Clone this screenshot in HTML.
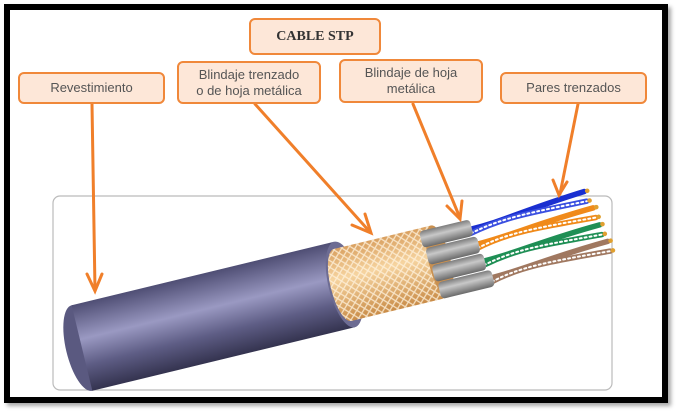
<!DOCTYPE html>
<html><head><meta charset="utf-8"><style>
html,body{margin:0;padding:0;background:#fff}
body{width:681px;height:415px;position:relative;overflow:hidden;font-family:"Liberation Sans",sans-serif}
.frame{position:absolute;left:4px;top:4px;width:652px;height:387px;border:6px solid #000;box-shadow:3px 3px 4px rgba(0,0,0,.35)}
.box{position:absolute;background:#fde7d8;border:2.5px solid #f0883a;border-radius:6px;color:#555;font-size:13px;text-align:center;display:flex;align-items:center;justify-content:center;line-height:16px;box-sizing:border-box}
</style></head><body>
<div class="frame"></div>
<svg width="681" height="415" style="position:absolute;left:0;top:0">
<defs>
<linearGradient id="pg" x1="0" y1="0" x2="0" y2="1">
<stop offset="0" stop-color="#4f4e74"/><stop offset=".4" stop-color="#9a99c2"/><stop offset=".7" stop-color="#5e5d85"/><stop offset="1" stop-color="#34334f"/></linearGradient>
<linearGradient id="bg" x1="0" y1="0" x2="0" y2="1">
<stop offset="0" stop-color="#d9a060"/><stop offset=".4" stop-color="#f6d4a0"/><stop offset="1" stop-color="#c98c48"/></linearGradient>
<linearGradient id="gg" x1="0" y1="0" x2="0" y2="1">
<stop offset="0" stop-color="#7c7c7c"/><stop offset=".4" stop-color="#c8c8c8"/><stop offset="1" stop-color="#6a6a6a"/></linearGradient>
<pattern id="mesh" width="8" height="8" patternUnits="userSpaceOnUse">
<path d="M0,0 L8,8 M8,0 L0,8" stroke="#fff3de" stroke-width="1.3" opacity=".8"/></pattern>
</defs>
<rect x="53" y="196" width="559" height="194" rx="7" fill="#fff" stroke="#bbb" stroke-width="1.2"/>
<g transform="translate(82,348) rotate(-13.6)">
<ellipse cx="0" cy="0" rx="16" ry="44" fill="#5a5980"/>
<rect x="0" y="-44" width="270" height="88" fill="url(#pg)"/>
<ellipse cx="270" cy="0" rx="16" ry="44" fill="#6d6c93"/>
<rect x="268" y="-37" width="100" height="74" fill="url(#bg)"/>
<rect x="268" y="-37" width="100" height="74" fill="url(#mesh)"/>
<ellipse cx="268" cy="0" rx="12" ry="37" fill="url(#bg)"/>
<ellipse cx="268" cy="0" rx="12" ry="37" fill="url(#mesh)"/>
<ellipse cx="368" cy="0" rx="11" ry="37" fill="#c99050"/>
<g stroke-linecap="round" fill="none" stroke-width="5.5">
<path d="M405,-24 C440,-24 460,-30 525,-34" stroke="#1a2fd0"/>
<path d="M405,-20 C440,-28 470,-26 525,-24" stroke="#3a4fe0"/>
<path d="M405,-20 C440,-28 470,-26 525,-24" stroke="#fff" stroke-width="2" stroke-dasharray="2 3"/>
<path d="M408,-8 C440,-8 470,-14 530,-16" stroke="#f08a1a"/>
<path d="M408,-4 C440,-12 470,-10 530,-6" stroke="#f08a1a"/>
<path d="M408,-4 C440,-12 470,-10 530,-6" stroke="#fff" stroke-width="2" stroke-dasharray="2 3"/>
<path d="M410,10 C445,10 470,4 532,2" stroke="#1f8f55"/>
<path d="M410,14 C445,6 470,8 532,12" stroke="#1f8f55"/>
<path d="M410,14 C445,6 470,8 532,12" stroke="#fff" stroke-width="2" stroke-dasharray="2 3"/>
<path d="M414,28 C445,28 475,22 536,20" stroke="#a07860"/>
<path d="M414,32 C445,24 475,26 536,30" stroke="#a07860"/>
<path d="M414,32 C445,24 475,26 536,30" stroke="#fff" stroke-width="2" stroke-dasharray="2 3"/>
</g>
<g fill="#e0a030"><circle cx="528" cy="-34" r="2.3"/><circle cx="528" cy="-24" r="2.3"/><circle cx="533" cy="-16" r="2.3"/><circle cx="533" cy="-6" r="2.3"/><circle cx="535" cy="2" r="2.3"/><circle cx="535" cy="12" r="2.3"/><circle cx="539" cy="20" r="2.3"/><circle cx="539" cy="30" r="2.3"/></g>
<g>
<rect x="355" y="-34" width="52" height="17" rx="4" fill="url(#gg)"/>
<rect x="357" y="-16" width="53" height="17" rx="4" fill="url(#gg)"/>
<rect x="359" y="2" width="53" height="17" rx="4" fill="url(#gg)"/>
<rect x="361" y="20" width="55" height="17" rx="4" fill="url(#gg)"/>
</g>
</g>
<g stroke="#f07f2a" stroke-width="3" fill="none" stroke-linecap="round">
<line x1="92" y1="104" x2="95" y2="290"/><path d="M87,274 L95,291 L102,274"/>
<line x1="255" y1="104" x2="370" y2="232"/><path d="M352,225 L371,233 L365,214"/>
<line x1="413" y1="104" x2="460" y2="218"/><path d="M447,206 L460,219 L462,201"/>
<line x1="578" y1="104" x2="560" y2="194"/><path d="M553,180 L559,195 L567,182"/>
</g>
</svg>
<div class="box" style="left:249px;top:18px;width:132px;height:37px;font-family:'Liberation Serif',serif;font-weight:bold;font-size:14px;color:#333">CABLE STP</div>
<div class="box" style="left:18px;top:72px;width:147px;height:32px">Revestimiento</div>
<div class="box" style="left:177px;top:61px;width:144px;height:43px">Blindaje trenzado<br>o de hoja metálica</div>
<div class="box" style="left:339px;top:59px;width:144px;height:44px">Blindaje de hoja<br>metálica</div>
<div class="box" style="left:500px;top:72px;width:147px;height:32px">Pares trenzados</div>
</body></html>
